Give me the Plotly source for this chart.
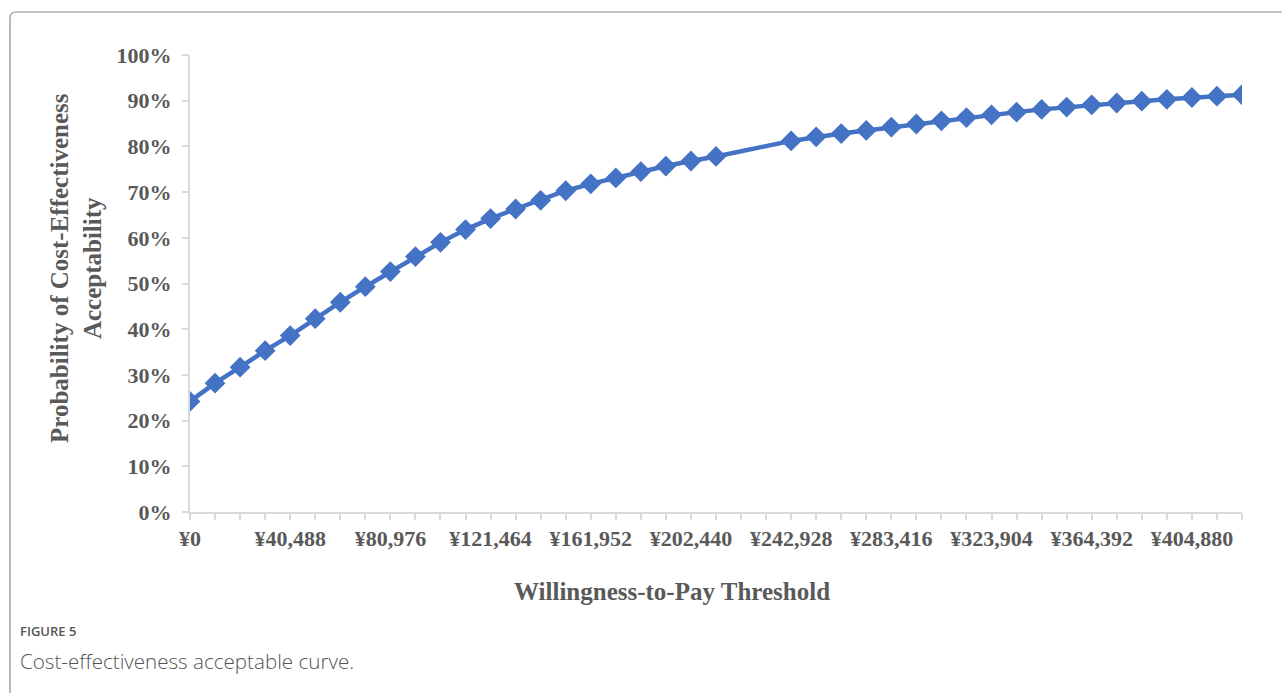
import plotly.graph_objects as go

# Willingness-to-pay thresholds (¥) and probability of cost-effectiveness
step = 10122
wtp = [0, 10122, 20244, 30366, 40488, 50610, 60732, 70854, 80976, 91098,
       101220, 111342, 121464, 131586, 141708, 151830, 161952, 172074, 182196, 192318,
       202440, 212562, 242928, 253050, 263172, 273294, 283416, 293538,
       303660, 313782, 323904, 334026, 344148, 354270, 364392, 374514, 384636, 394758,
       404880, 415002, 425124]
prob = [0.242, 0.282, 0.317, 0.353, 0.386, 0.423, 0.459, 0.493, 0.526, 0.559,
        0.590, 0.618, 0.642, 0.663, 0.682, 0.703, 0.718, 0.731, 0.745, 0.757,
        0.768, 0.778, 0.812, 0.821, 0.828, 0.835, 0.842, 0.849,
        0.856, 0.863, 0.869, 0.875, 0.881, 0.886, 0.891, 0.895, 0.899, 0.903,
        0.907, 0.910, 0.913]
tick_vals = [0, 40488, 80976, 121464, 161952, 202440, 242928, 283416, 323904, 364392, 404880]
tick_text = ["¥0", "¥40,488", "¥80,976", "¥121,464", "¥161,952", "¥202,440",
             "¥242,928", "¥283,416", "¥323,904", "¥364,392", "¥404,880"]

W, H = 1282, 693
L, R, T, B = 190, 40, 55, 181
pw, ph = W - L - R, H - T - B

def px(x):
    return (x - L) / pw

def py(y):
    return (H - B - y) / ph

GRAY = "#595959"
AX = "#d9d9d9"
FONT = "Liberation Serif"

fig = go.Figure()
fig.add_trace(go.Scatter(
    x=wtp, y=prob, mode="lines+markers",
    line=dict(color="#4472C4", width=4.5),
    marker=dict(symbol="diamond", size=16, color="#4472C4"),
    hoverinfo="skip", showlegend=False,
))

fig.update_layout(
    width=W, height=H,
    margin=dict(l=L, r=R, t=T, b=B),
    paper_bgcolor="white", plot_bgcolor="white",
    font=dict(family=FONT, color=GRAY),
    xaxis=dict(
        range=[0, 425124], tickvals=tick_vals, ticktext=tick_text,
        showgrid=False, zeroline=False, showline=True, linecolor=AX, linewidth=2,
        ticks="outside", ticklen=6, tickcolor=AX, tickwidth=1.5,
        minor=dict(dtick=step, tick0=0, ticks="outside", ticklen=6, tickcolor=AX, tickwidth=1.5, showgrid=False),
        tickfont=dict(family=FONT, size=22, color=GRAY, weight="bold"),
        ticklabelstandoff=0,
    ),
    yaxis=dict(
        range=[0, 1], dtick=0.1, tickformat=".0%",
        showgrid=False, zeroline=False, showline=True, linecolor=AX, linewidth=2,
        ticks="outside", ticklen=6, tickcolor=AX, tickwidth=1.5,
        tickfont=dict(family=FONT, size=22, color=GRAY, weight="bold"),
        ticklabelstandoff=6,
    ),
)

annotations = [
    dict(text="Willingness-to-Pay Threshold", x=px(672), y=py(591), xref="paper", yref="paper",
         showarrow=False, xanchor="center", yanchor="middle",
         font=dict(family=FONT, size=25, color=GRAY, weight="bold")),
    dict(text="Probability of Cost-Effectiveness<br>Acceptability", x=px(76), y=py(268),
         xref="paper", yref="paper", textangle=-90, showarrow=False,
         xanchor="center", yanchor="middle",
         font=dict(family=FONT, size=25, color=GRAY, weight="bold")),
    dict(text="FIGURE 5", x=px(18), y=py(631), xref="paper", yref="paper",
         showarrow=False, xanchor="left", yanchor="middle",
         font=dict(family="Open Sans", size=13, color="#555555", weight=600)),
    dict(text="Cost-effectiveness acceptable curve.", x=px(18), y=py(661), xref="paper", yref="paper",
         showarrow=False, xanchor="left", yanchor="middle",
         font=dict(family="Open Sans", size=20.6, color="#555555", weight=300)),
]
fig.update_layout(annotations=annotations)

# figure frame (top-left rounded corner)
x0, y0 = px(10), py(12)
rx, ry = 6 / pw, 6 / ph
fig.add_shape(type="path", xref="paper", yref="paper",
              path=f"M {x0},{py(720)} L {x0},{y0 - ry} Q {x0},{y0} {x0 + rx},{y0} L {px(1300)},{y0}",
              line=dict(color="#8c8c8c", width=1.2))

fig.write_html("out.html")
